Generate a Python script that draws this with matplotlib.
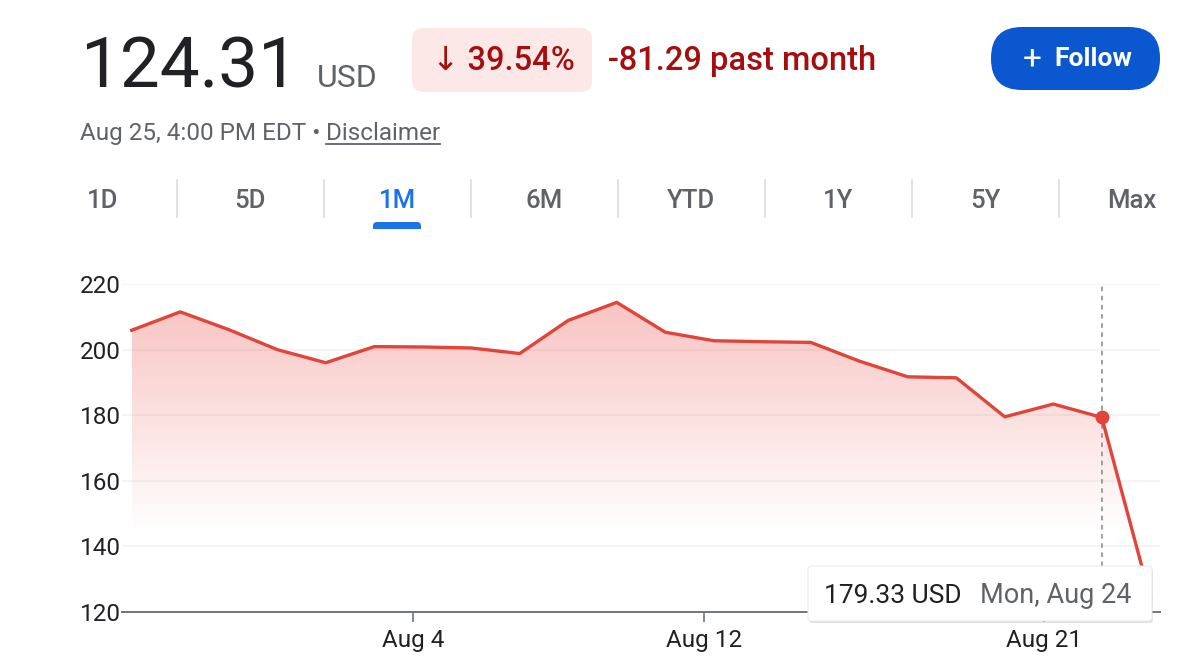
import matplotlib
matplotlib.use('Agg')
import matplotlib.pyplot as plt
import numpy as np
from matplotlib.patches import FancyBboxPatch

plt.rcParams['font.family'] = ['Roboto', 'DejaVu Sans']

# one month of daily closes (trading days only)
dates = ['Jul 27', 'Jul 28', 'Jul 29', 'Jul 30', 'Jul 31',
         'Aug 3', 'Aug 4', 'Aug 5', 'Aug 6', 'Aug 7',
         'Aug 10', 'Aug 11', 'Aug 12', 'Aug 13', 'Aug 14',
         'Aug 17', 'Aug 18', 'Aug 19', 'Aug 20', 'Aug 21',
         'Aug 24', 'Aug 25']
prices = [205.9, 211.5, 206.1, 200.0, 196.0,
          200.9, 200.8, 200.5, 198.8, 208.9,
          214.4, 205.3, 202.7, 202.4, 202.2,
          196.5, 191.7, 191.4, 179.5, 183.4,
          179.33, 124.31]
x_tick_labels = ['Aug 4', 'Aug 12', 'Aug 21']
y_ticks = [120, 140, 160, 180, 200, 220]
periods = ['1D', '5D', '1M', '6M', 'YTD', '1Y', '5Y', 'Max']
active_period = '1M'
hover_date = 'Aug 24'
hover_text = 'Mon, Aug 24'

last_price = '124.31'
change_pct = '39.54%'
change_abs = '-81.29 past month'

LINE = '#e0443a'
BLACK = '#202124'
GRAY = '#5f6368'
DARKRED = '#a50e0e'
BLUE = '#0b57d0'

fig = plt.figure(figsize=(11.88, 6.64), dpi=100)

# ---- chart ----
ax = fig.add_axes([122 / 1188, 52 / 664, (1160 - 122) / 1188, 328 / 664])
x = np.arange(len(prices))
ax.plot(x, prices, color=LINE, lw=2.4, solid_joinstyle='round', zorder=4)

poly = ax.fill_between(x, prices, 120, facecolor='none', lw=0)
levels = np.linspace(120, 220, 300)
alpha = np.clip((levels - 144) / (215 - 144), 0, 1) * 0.32
img = np.zeros((len(levels), 1, 4))
img[:, 0, 0] = 0.91
img[:, 0, 1] = 0.27
img[:, 0, 2] = 0.24
img[:, 0, 3] = alpha
im = ax.imshow(img, extent=[0, len(prices) - 1, 120, 220], origin='lower',
               aspect='auto', zorder=2, interpolation='bilinear')
im.set_clip_path(poly.get_paths()[0], transform=ax.transData)

hi = dates.index(hover_date)
ax.axvline(hi, color='#80868b', lw=1.1, ls=(0, (3, 3)), zorder=3)
ax.plot(hi, prices[hi], 'o', color=LINE, ms=9, zorder=5)

ax.set_xlim(-0.2, len(prices) - 0.8)
ax.set_ylim(120, 220)
ax.set_yticks(y_ticks)
ax.set_yticklabels([str(v) for v in y_ticks])
ax.set_xticks([dates.index(d) - 0.2 for d in x_tick_labels])
ax.set_xticklabels(x_tick_labels)
ax.grid(axis='y', color='#f1f3f4', lw=1.2, zorder=1)
ax.set_axisbelow(True)
for s in ['top', 'right', 'left']:
    ax.spines[s].set_visible(False)
ax.spines['bottom'].set_color('#70757a')
ax.spines['bottom'].set_linewidth(1.4)
ax.spines['bottom'].set_zorder(6)
ax.tick_params(axis='y', length=0, pad=1, labelsize=17.5, labelcolor=BLACK)
ax.tick_params(axis='x', length=7, width=1.2, color='#70757a', pad=5,
               labelsize=17.5, labelcolor=BLACK)
ax.patch.set_alpha(0)

# ---- header / overlay ----
ov = fig.add_axes([0, 0, 1, 1], zorder=5)
ov.set_xlim(0, 1188)
ov.set_ylim(664, 0)
ov.axis('off')
ov.patch.set_alpha(0)

ov.text(80, 88, last_price, fontsize=51, color=BLACK, va='baseline')
ov.text(317, 87, 'USD', fontsize=23, color=GRAY, va='baseline')

ov.add_patch(FancyBboxPatch((412, 28), 180, 64, boxstyle='round,pad=0,rounding_size=12',
                            fc='#fce8e6', ec='none'))
ov.text(503, 70, '\u2193 ' + change_pct, fontsize=23.5, color=DARKRED, weight='medium',
        ha='center', va='baseline')
ov.text(608, 70, change_abs, fontsize=23.5, color=DARKRED, weight='medium', va='baseline')

ov.add_patch(FancyBboxPatch((991, 27), 169, 63, boxstyle='round,pad=0,rounding_size=31',
                            fc=BLUE, ec='none'))
ov.text(1032, 59, '+', fontsize=24, color='white', ha='center', va='center')
ov.text(1054, 59, 'Follow', fontsize=19, color='white', weight='bold', va='center')

first = ov.text(80, 140, 'Aug 25, 4:00 PM EDT \u2022', fontsize=17.5, color=GRAY,
                va='baseline')
fig.canvas.draw()
fb = first.get_window_extent().transformed(ov.transData.inverted())
disc = ov.text(fb.x1 + 5, 140, 'Disclaimer', fontsize=17.5, color=GRAY, va='baseline')
fig.canvas.draw()
bb = disc.get_window_extent().transformed(ov.transData.inverted())
ov.plot([bb.x0, bb.x1], [144, 144], color=GRAY, lw=1.3)

for i, p in enumerate(periods):
    cx = 103 + i * 147
    col = '#1a73e8' if p == active_period else GRAY
    ov.text(cx, 201, p, fontsize=18.5, color=col, weight='medium', ha='center', va='center')
    if i > 0:
        ov.plot([cx - 73, cx - 73], [180, 217], color='#dadce0', lw=1.2)
    if p == active_period:
        ov.add_patch(FancyBboxPatch((cx - 24, 222), 48, 10,
                                    boxstyle='round,pad=0,rounding_size=4',
                                    fc='#1a73e8', ec='none'))
ov.add_patch(plt.Rectangle((360, 229), 70, 6, fc='white', ec='none'))

# tooltip
ov.add_patch(FancyBboxPatch((809, 568), 344, 55, boxstyle='round,pad=0,rounding_size=4',
                            fc='#000000', ec='none', alpha=0.12))
ov.add_patch(FancyBboxPatch((808, 566), 344, 55, boxstyle='round,pad=0,rounding_size=4',
                            fc='white', ec='#e8eaed', lw=0.8))
ov.text(824, 603, f'{prices[hi]:.2f} USD', fontsize=19, color=BLACK, va='baseline')
ov.text(980, 603, hover_text, fontsize=19.5, color=GRAY, va='baseline')

fig.savefig('out.png', dpi=100)
